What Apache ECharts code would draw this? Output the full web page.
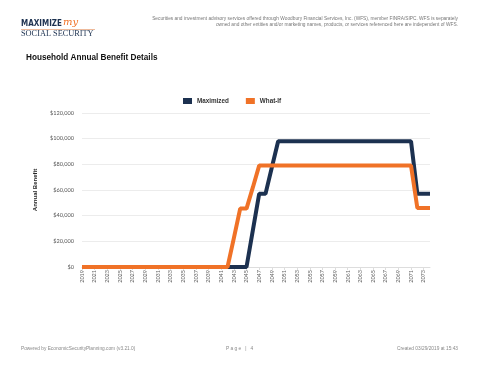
<!DOCTYPE html>
<html><head><meta charset="utf-8">
<script src="https://cdn.jsdelivr.net/npm/echarts@6/dist/echarts.min.js"></script>
<style>html,body{margin:0;padding:0;background:#fff}#c{width:480px;height:371px}</style>
</head><body><div id="c"></div>
<script>
const years = [];
for (let y = 2019; y <= 2074; y++) years.push(String(y));
// values per year 2019..2074
const maximized = [
  0,0,0,0,0,0,0,0,0,0,          // 2019-2028
  0,0,0,0,0,0,0,0,0,0,          // 2029-2038
  0,0,0,0,0,0,0,                // 2039-2045
  28500,57000,57000,77500,      // 2046-2049
  98000,98000,98000,98000,98000,98000,98000,98000,98000,98000, // 2050-2059
  98000,98000,98000,98000,98000,98000,98000,98000,98000,98000, // 2060-2069
  98000,98000,                  // 2070-2071
  57000,57000,57000             // 2072-2074
];
const whatIf = [
  0,0,0,0,0,0,0,0,0,0,          // 2019-2028
  0,0,0,0,0,0,0,0,0,0,          // 2029-2038
  0,0,0,0,                      // 2039-2042
  22500,45500,45500,62000,      // 2043-2046
  79000,79000,79000,79000,79000,79000,79000,79000,79000,79000, // 2047-2056
  79000,79000,79000,79000,79000,79000,79000,79000,79000,79000, // 2057-2066
  79000,79000,79000,79000,79000, // 2067-2071
  46000,46000,46000             // 2072-2074
];
const seriesNames = ['Maximized', 'What-If'];
const navy = '#1c3150', orange = '#f07227';

const chart = echarts.init(document.getElementById('c'), null, {renderer:'canvas'});
chart.setOption({
  animation: false,
  backgroundColor: '#fff',
  graphic: [
    {type:'text', left:21, top:20, style:{text:'MAXIMIZE', font:'bold 8px "DejaVu Sans Condensed", "DejaVu Sans", sans-serif', fill:navy}},
    {type:'text', left:63, top:17, style:{text:'my', font:'italic 10px "DejaVu Serif", serif', fill:orange}},
    {type:'rect', shape:{x:21, y:29, width:74, height:0.8}, style:{fill:'#e9a37a'}},
    {type:'text', left:21, top:30, style:{text:'SOCIAL SECURITY', font:'8.3px "Liberation Serif", serif', fill:navy}},
    {type:'text', right:22, top:16, style:{text:'Securities and investment advisory services offered through Woodbury Financial Services, Inc. (WFS), member FINRA/SIPC. WFS is separately', font:'4.8px "Liberation Sans", sans-serif', fill:'#777'}},
    {type:'text', right:22, top:22, style:{text:'owned and other entities and/or marketing names, products, or services referenced here are independent of WFS.', font:'4.8px "Liberation Sans", sans-serif', fill:'#777'}},
    {type:'text', left:26, top:53.5, style:{text:'Household Annual Benefit Details', font:'bold 8.2px "Liberation Sans", Arial, sans-serif', fill:'#111'}},
    {type:'text', left:21, top:346, style:{text:'Powered by EconomicSecurityPlanning.com (v3.21.0)', font:'4.8px "Liberation Sans", sans-serif', fill:'#888'}},
    {type:'text', left:226, top:346, style:{text:'P a g e   |   4', font:'4.8px "Liberation Sans", sans-serif', fill:'#888'}},
    {type:'text', right:22, top:346, style:{text:'Created 03/29/2019 at 15:43', font:'4.8px "Liberation Sans", sans-serif', fill:'#888'}}
  ],
  legend: {
    top: 93, left: 178,
    itemWidth: 9, itemHeight: 6, itemGap: 17,
    icon: 'rect',
    textStyle: {fontSize: 6.3, fontWeight: 'bold', color: '#333', fontFamily: '"Liberation Sans", Arial, sans-serif'},
    data: seriesNames
  },
  grid: {left: 82, right: 50, top: 113, bottom: 104, containLabel: false},
  xAxis: {
    type: 'category', data: years, boundaryGap: false,
    axisLine: {lineStyle: {color: '#ddd'}},
    axisTick: {show: true, interval: 1, length: 3, lineStyle: {color: '#ddd'}},
    axisLabel: {rotate: 90, interval: 1, fontSize: 5.5, color: '#666', margin: 3, fontFamily: 'Lato, sans-serif'}
  },
  yAxis: {
    type: 'value', min: 0, max: 120000, interval: 20000,
    name: 'Annual Benefit', nameLocation: 'middle', nameGap: 44, nameRotate: 90,
    nameTextStyle: {fontSize: 6, fontWeight: 'bold', color: '#222', fontFamily: '"Liberation Sans", Arial, sans-serif'},
    axisLine: {show: false}, axisTick: {show: false},
    splitLine: {lineStyle: {color: '#ececec'}},
    axisLabel: {fontSize: 5.6, color: '#555', margin: 8, fontFamily: 'Lato, sans-serif',
      formatter: v => '$' + v.toLocaleString('en-US')}
  },
  series: [
    {name: seriesNames[0], type: 'line', data: maximized, showSymbol: false, symbol: 'none',
      lineStyle: {width: 4, color: navy}, itemStyle: {color: navy}, z: 2},
    {name: seriesNames[1], type: 'line', data: whatIf, showSymbol: false, symbol: 'none',
      lineStyle: {width: 4, color: orange}, itemStyle: {color: orange}, z: 3}
  ]
});
</script></body></html>
